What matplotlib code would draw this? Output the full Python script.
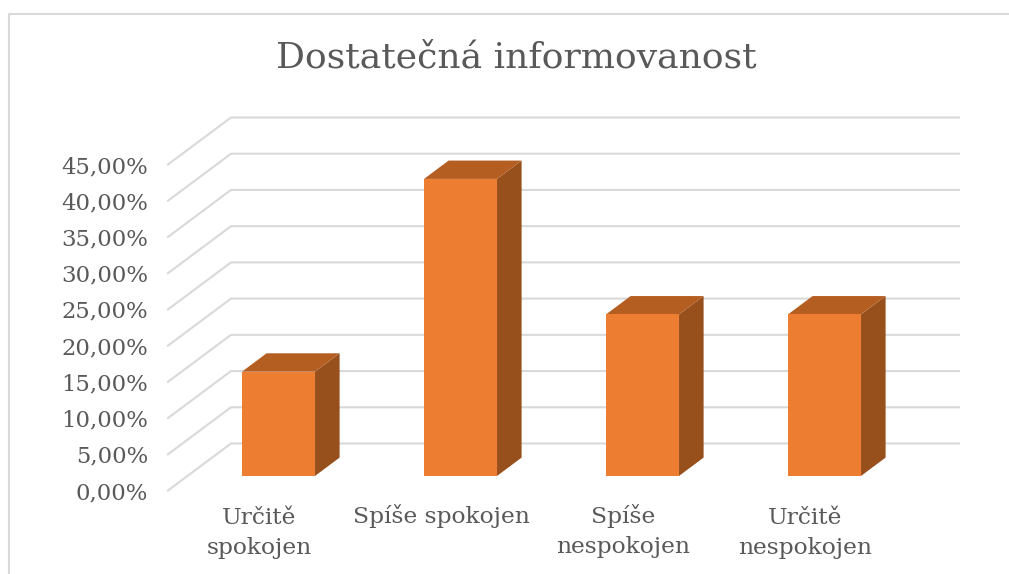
import matplotlib.pyplot as plt
from matplotlib.lines import Line2D
from matplotlib.patches import Polygon
from matplotlib.transforms import ScaledTranslation

categories = ['Určitě\nspokojen', 'Spíše spokojen', 'Spíše\nnespokojen', 'Určitě\nnespokojen']
values = [14.4, 41.0, 22.3, 22.3]
y_ticks = [0, 5, 10, 15, 20, 25, 30, 35, 40, 45]
y_labels = ['0,00%', '5,00%', '10,00%', '15,00%', '20,00%', '25,00%', '30,00%', '35,00%', '40,00%', '45,00%']
title = 'Dostatečná informovanost'

W, H = 1009, 574
plt.rcParams['font.family'] = ['DejaVu Serif']
fig = plt.figure(figsize=(W / 100, H / 100), dpi=100)

# the axes is the front plane of the fake 3D box
ax = fig.add_axes([168 / W, (H - 490.5) / H, 728 / W, 326 / H])
ax.set_xlim(0, 4)
ax.set_ylim(0, 45)
for s in ax.spines.values():
    s.set_visible(False)
ax.patch.set_alpha(0)

# depth shift of the back wall, in data units
depth_x = 63 / 182
depth_y = 47 / (326 / 45)


def shifted(x, y, d):
    return x + d * depth_x, y + d * depth_y


grid = '#d9d9d9'
for t in y_ticks:
    x0, y0 = shifted(0, t, 0)
    x1, y1 = shifted(0, t, 1)
    x2, y2 = shifted(4, t, 1)
    ax.plot([x0, x1, x2], [y0, y1, y2], color=grid, lw=1.5, clip_on=False, zorder=1,
            solid_joinstyle='miter')

bar_w = 73 / 182
d0, d1 = 0.31, 0.70
for i, v in enumerate(values):
    xa = i + 0.5 - bar_w / 2
    xb = i + 0.5 + bar_w / 2
    front = [shifted(xa, 0, d0), shifted(xb, 0, d0), shifted(xb, v, d0), shifted(xa, v, d0)]
    side = [shifted(xb, 0, d0), shifted(xb, 0, d1), shifted(xb, v, d1), shifted(xb, v, d0)]
    top = [shifted(xa, v, d0), shifted(xb, v, d0), shifted(xb, v, d1), shifted(xa, v, d1)]
    ax.add_patch(Polygon(side, closed=True, fc='#974f1c', ec='none', clip_on=False, zorder=3))
    ax.add_patch(Polygon(top, closed=True, fc='#b55e21', ec='none', clip_on=False, zorder=3))
    ax.add_patch(Polygon(front, closed=True, fc='#ed7d31', ec='none', clip_on=False, zorder=4))

ax.set_yticks(y_ticks)
ax.set_yticklabels(y_labels)
ax.set_xticks([i + 0.5 for i in range(len(categories))])
ax.set_xticklabels(categories, linespacing=1.44)
ax.tick_params(axis='y', length=0, pad=14.4, labelsize=16.4, labelcolor='#595959')
ax.tick_params(axis='x', length=0, pad=10, labelsize=16.8, labelcolor='#595959')

# the caron in Určitě pushes that label up a little
for lab in ax.get_xticklabels():
    if lab.get_text().startswith('Určitě'):
        lab.set_transform(lab.get_transform() + ScaledTranslation(0, -3 / 100, fig.dpi_scale_trans))

fig.text(516 / W, 1 - 58 / H, title, ha='center', va='center', fontsize=26, color='#595959')

# chart border, cut off by the image at the right and bottom
fig.add_artist(Line2D([9 / W, 9 / W, 1], [0, 1 - 14 / H, 1 - 14 / H], color=grid, lw=1.5))

fig.savefig('out.png', dpi=100)
